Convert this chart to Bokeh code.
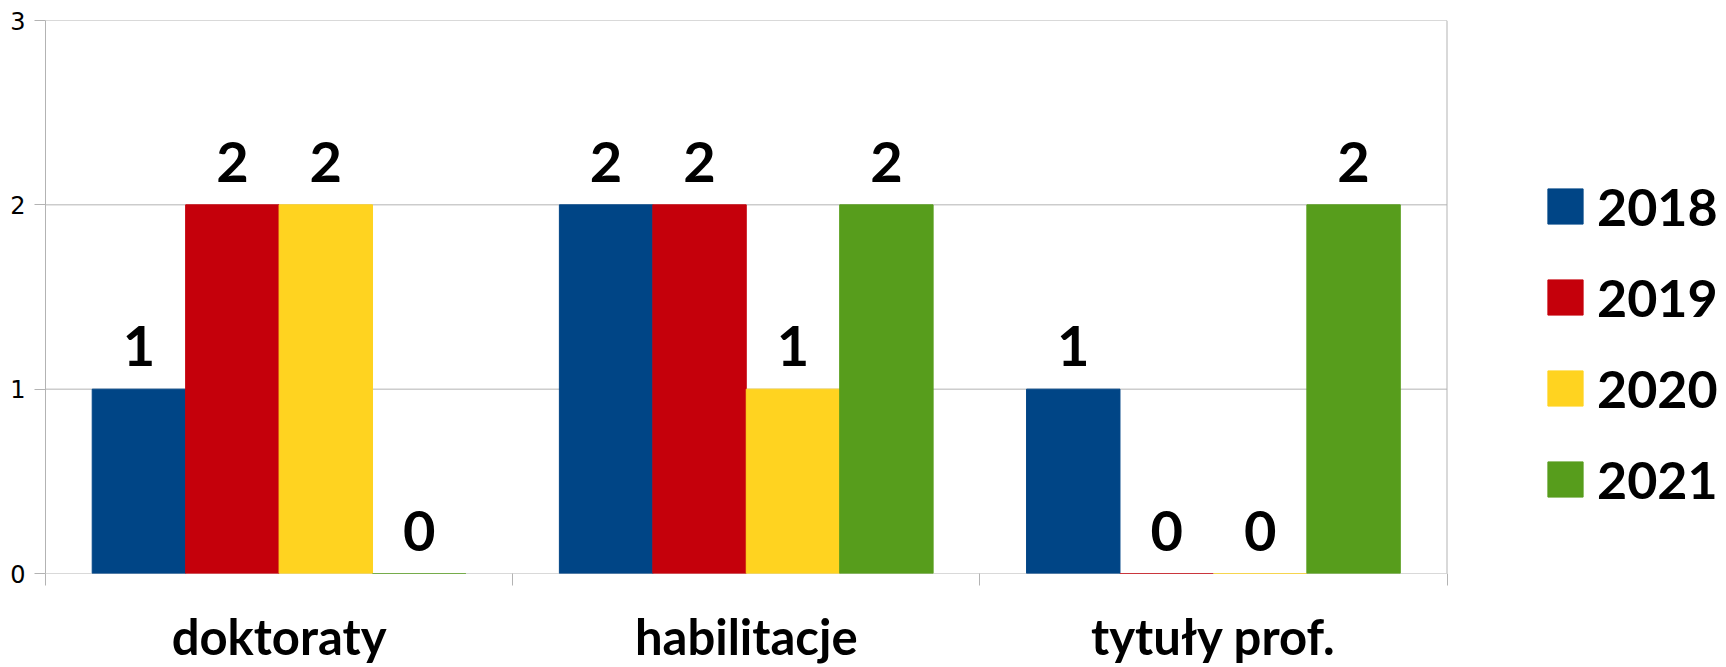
from bokeh.plotting import figure
from bokeh.models import Range1d, FixedTicker, Legend, LegendItem, ColumnDataSource, LabelSet
from bokeh.transform import dodge
from bokeh.core.properties import value
from bokeh.embed import file_html
from bokeh.resources import INLINE

categories = ["doktoraty", "habilitacje", "tytuły prof."]
years = ["2018", "2019", "2020", "2021"]
v2018 = [1, 2, 1]
v2019 = [2, 2, 0]
v2020 = [2, 1, 0]
v2021 = [0, 2, 2]
y_ticks = [0, 1, 2, 3]
colors = ["#004586", "#c5000b", "#ffd320", "#579d1c"]
grey = "#b3b3b3"

# layout (pixels)
W, H = 1726, 667
LEFT, TOP, BOTTOM = 45, 20, 93
WALL_W = 1401.5          # width of the chart wall; the rest of the frame holds the legend

n = len(categories)
series = [v2018, v2019, v2020, v2021]
centers = [i + 0.5 for i in range(n)]
bar_w = 0.2
offsets = [(j - (len(years) - 1) / 2) * bar_w for j in range(len(years))]
x_end = n * (W - LEFT) / WALL_W

p = figure(width=W, height=H, output_backend="svg", toolbar_location=None,
           x_range=Range1d(0, x_end), y_range=Range1d(0, y_ticks[-1]),
           min_border_left=LEFT, min_border_right=0, min_border_top=TOP, min_border_bottom=BOTTOM)
p.background_fill_color = "white"
p.border_fill_color = "white"
p.outline_line_color = None
p.xgrid.visible = False
p.ygrid.visible = False

# chart wall: horizontal grid lines and right edge, limited to the categories
p.segment(x0=[0] * len(y_ticks), x1=[n] * len(y_ticks), y0=y_ticks, y1=y_ticks,
          line_color=grey, line_width=1)
p.segment(x0=[n], x1=[n], y0=[y_ticks[0]], y1=[y_ticks[-1]], line_color=grey, line_width=1)

yax = p.yaxis[0]
yax.ticker = FixedTicker(ticks=y_ticks)
yax.axis_line_color = grey
yax.major_tick_line_color = grey
yax.major_tick_out = 11
yax.major_tick_in = 0
yax.minor_tick_line_color = None
yax.major_label_standoff = 9
yax.major_label_text_font = "DejaVu Sans"
yax.major_label_text_font_size = "24px"
yax.major_label_text_color = "#000000"

xax = p.xaxis[0]
xax.ticker = FixedTicker(ticks=centers, minor_ticks=list(range(n + 1)))
xax.major_label_overrides = {c: name for c, name in zip(centers, categories)}
xax.axis_line_color = None
xax.major_tick_line_color = None
xax.major_tick_out = 0
xax.major_tick_in = 0
xax.minor_tick_line_color = grey
xax.minor_tick_out = 12
xax.minor_tick_in = 0
xax.major_label_standoff = 21
xax.major_label_text_font = "Lato"
xax.major_label_text_font_style = "bold"
xax.major_label_text_font_size = "49px"
xax.major_label_text_color = "#000000"

src = ColumnDataSource(dict(x=centers, **{y: s for y, s in zip(years, series)},
                            **{"lbl" + y: [str(v) for v in s] for y, s in zip(years, series)}))

items = []
for j, yr in enumerate(years):
    r = p.vbar(x=dodge("x", offsets[j], range=p.x_range), top=yr, bottom=0, width=bar_w,
               source=src, fill_color=colors[j], line_color=colors[j], line_width=1)
    items.append(LegendItem(label=yr, renderers=[r]))
    labels = LabelSet(x=dodge("x", offsets[j], range=p.x_range), y=yr, text="lbl" + yr,
                      source=src, text_align="center", text_baseline="alphabetic",
                      y_offset=23, text_font=value("Lato"), text_font_style="bold",
                      text_font_size="56px", text_color="#000000")
    p.add_layout(labels)

legend = Legend(items=items, location=(1498, 63), orientation="vertical",
                glyph_width=44, glyph_height=44, label_standoff=10, spacing=29,
                padding=0, margin=0, border_line_color=None, background_fill_alpha=0,
                label_text_font="Lato", label_text_font_style="bold",
                label_text_font_size="52px", label_text_color="#000000")
p.add_layout(legend, "center")

open("out.html", "w").write(file_html(p, INLINE))
